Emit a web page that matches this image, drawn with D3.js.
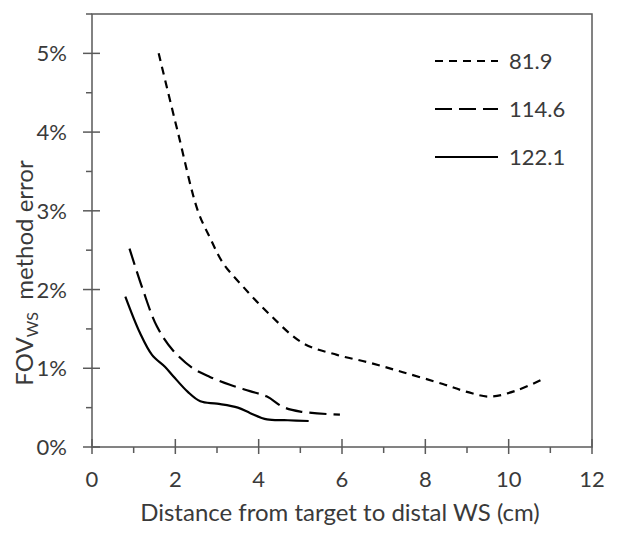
<!DOCTYPE html>
<html>
<head>
<meta charset="utf-8">
<title>FOV WS method error</title>
<style>
  body {margin: 0; padding: 0; background: #fff;}
  svg {display: block;}
  text {font-family: Lato, "Open Sans", sans-serif; fill: #3a3a3a;}
</style>
</head>
<body>
<div id="chart"></div>
<script src="https://cdn.jsdelivr.net/npm/d3@7/dist/d3.min.js"></script>
<script>
// series: [distance cm, error %]
var s819 = [[1.6,5.0],[2.06,4.0],[2.54,3.0],[2.83,2.66],[3.14,2.34],[3.62,2.04],[4.27,1.68],
            [5.06,1.32],[5.88,1.17],[6.67,1.07],[7.46,0.95],[8.42,0.80],[9.0,0.70],[9.55,0.64],
            [10.2,0.72],[10.85,0.87]];
var s1146 = [[0.9,2.52],[1.22,2.0],[1.56,1.53],[1.94,1.23],[2.42,1.0],[2.83,0.89],[3.31,0.79],
             [3.79,0.71],[4.2,0.64],[4.58,0.51],[5.0,0.45],[5.95,0.41]];
var s1221 = [[0.8,1.91],[1.15,1.45],[1.44,1.17],[1.75,1.02],[1.95,0.9],[2.3,0.7],[2.6,0.58],
             [3.0,0.55],[3.5,0.5],[3.8,0.43],[4.2,0.35],[4.7,0.34],[5.2,0.33]];

var seriesNames = ["81.9", "114.6", "122.1"];
var seriesData = [s819, s1146, s1221];
var dashes = ["8,6", "17,7", null];

var xMajor = [0, 2, 4, 6, 8, 10, 12];
var xMinor = [1, 3, 5, 7, 9, 11];
var yMajor = [0, 1, 2, 3, 4, 5];
var yMinor = [0.5, 1.5, 2.5, 3.5, 4.5, 5.5];

var width = 617, height = 539;
var plot = {left: 92, right: 592, top: 14, bottom: 447};
var axisColor = "#5a5a5a";

var x = d3.scaleLinear().domain([0, 12]).range([plot.left, plot.right]);
var y = d3.scaleLinear().domain([0, 5.5]).range([plot.bottom, plot.top]);

var svg = d3.select("#chart").append("svg")
    .attr("width", width)
    .attr("height", height);

// frame
svg.append("rect")
    .attr("x", plot.left).attr("y", plot.top)
    .attr("width", plot.right - plot.left).attr("height", plot.bottom - plot.top)
    .attr("fill", "none").attr("stroke", axisColor).attr("stroke-width", 1.5);

// ticks
svg.selectAll(".xmaj").data(xMajor).enter().append("line")
    .attr("x1", d => x(d)).attr("x2", d => x(d))
    .attr("y1", plot.bottom - 8).attr("y2", plot.bottom + 7)
    .attr("stroke", axisColor).attr("stroke-width", 1.5);
svg.selectAll(".xmin").data(xMinor).enter().append("line")
    .attr("x1", d => x(d)).attr("x2", d => x(d))
    .attr("y1", plot.bottom).attr("y2", plot.bottom + 6)
    .attr("stroke", axisColor).attr("stroke-width", 1.5);
svg.selectAll(".ymaj").data(yMajor).enter().append("line")
    .attr("y1", d => y(d)).attr("y2", d => y(d))
    .attr("x1", plot.left - 9).attr("x2", plot.left + 8)
    .attr("stroke", axisColor).attr("stroke-width", 1.5);
svg.selectAll(".ymin").data(yMinor).enter().append("line")
    .attr("y1", d => y(d)).attr("y2", d => y(d))
    .attr("x1", plot.left - 6).attr("x2", plot.left)
    .attr("stroke", axisColor).attr("stroke-width", 1.5);

// tick labels
svg.selectAll(".xl").data(xMajor).enter().append("text")
    .attr("x", d => x(d)).attr("y", 487)
    .attr("text-anchor", "middle").attr("font-size", 22)
    .text(d => d);
svg.selectAll(".yl").data(yMajor).enter().append("text")
    .attr("x", 67).attr("y", d => y(d) + 8)
    .attr("text-anchor", "end").attr("font-size", 22)
    .text(d => d + "%");

// axis titles
svg.append("text")
    .attr("x", 340).attr("y", 521)
    .attr("text-anchor", "middle").attr("font-size", 24)
    .text("Distance from target to distal WS (cm)");

var yt = svg.append("text")
    .attr("transform", "translate(33,273) rotate(-90)")
    .attr("text-anchor", "middle").attr("font-size", 24);
yt.append("tspan").text("FOV");
yt.append("tspan").attr("font-size", 16).attr("dy", 5).text("WS");
yt.append("tspan").attr("dy", -5).text("\u00a0\u00a0method error");

// curves
var line = d3.line()
    .x(d => x(d[0]))
    .y(d => y(d[1]))
    .curve(d3.curveCatmullRom.alpha(0.5));

svg.selectAll(".series").data(seriesData).enter().append("path")
    .attr("d", line)
    .attr("fill", "none")
    .attr("stroke", "#000")
    .attr("stroke-width", 2.2)
    .attr("stroke-dasharray", (d, i) => dashes[i]);

// legend
var leg = svg.selectAll(".leg").data(seriesNames).enter().append("g")
    .attr("transform", (d, i) => "translate(435," + (61 + i * 48) + ")");
leg.append("line")
    .attr("x1", 0).attr("x2", 63).attr("y1", 0).attr("y2", 0)
    .attr("stroke", "#000").attr("stroke-width", 2.2)
    .attr("stroke-dasharray", (d, i) => dashes[i]);
leg.append("text")
    .attr("x", 74).attr("y", 8)
    .attr("font-size", 22)
    .text(d => d);
</script>
</body>
</html>
